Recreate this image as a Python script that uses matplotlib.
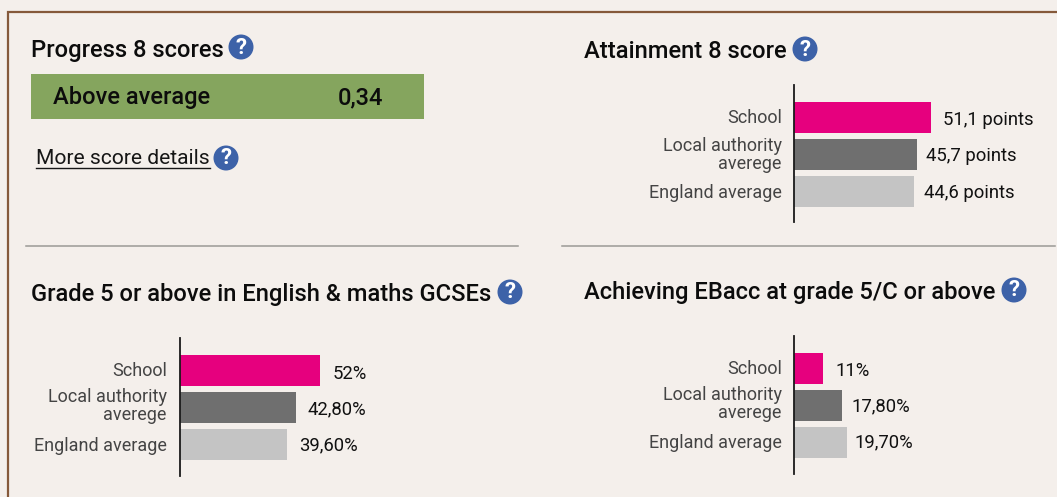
import matplotlib.pyplot as plt
from matplotlib.patches import Circle, Rectangle
from matplotlib.transforms import ScaledTranslation

categories = ['School', 'Local authority\naverege', 'England average']

attainment_values = [51.1, 45.7, 44.6]
attainment_labels = ['51,1 points', '45,7 points', '44,6 points']
grade5_values = [52, 42.8, 39.6]
grade5_labels = ['52%', '42,80%', '39,60%']
ebacc_values = [11, 17.8, 19.7]
ebacc_labels = ['11%', '17,80%', '19,70%']

W, H = 1057, 497
BG = '#f4efeb'
BAR_COLORS = ['#e6007e', '#6f6f6f', '#c4c4c4']
PX_PER_UNIT = 2.7

plt.rcParams['font.family'] = ['Roboto', 'DejaVu Sans']

fig = plt.figure(figsize=(W / 100, H / 100), dpi=100, facecolor=BG)

# overlay in pixel coordinates for the page furniture
page = fig.add_axes([0, 0, 1, 1])
page.set_xlim(0, W)
page.set_ylim(H, 0)
page.axis('off')
page.set_zorder(5)
page.patch.set_alpha(0)


def help_icon(x, y):
    page.add_patch(Circle((x, y), 12.5, color='#3d62a8', lw=0))
    page.text(x, y + 0.5, '?', color='white', fontsize=16, fontweight='bold',
              ha='center', va='center')


def heading(x, y, s):
    page.text(x, y, s, fontsize=17.1, fontweight='medium', color='#0c0c0c',
              ha='left', va='center')


def bar_panel(left, top, bottom, first_center, values, labels, pads, drops, lifts, label_pad=8.5):
    width = 250
    ax = fig.add_axes([left / W, 1 - bottom / H, width / W, (bottom - top) / H])
    ax.patch.set_alpha(0)
    ypos = [0, 1, 2]
    ax.barh(ypos, values, height=31 / 37, color=BAR_COLORS)
    ax.set_xlim(0, width / PX_PER_UNIT)
    ax.set_ylim(2 + (bottom - first_center - 74) / 37, -(first_center - top) / 37)
    ax.set_yticks(ypos)
    ax.set_yticklabels(categories, fontsize=13.0, fontweight='normal',
                       color='#444444', linespacing=1.0)
    ax.tick_params(axis='y', length=0, pad=label_pad)
    # category labels do not sit exactly on the bar centres
    for tick, up in zip(ax.get_yticklabels(), lifts):
        tick.set_transform(tick.get_transform() + ScaledTranslation(0, up / 100, fig.dpi_scale_trans))
    ax.set_xticks([])
    for side in ['top', 'right', 'bottom']:
        ax.spines[side].set_visible(False)
    ax.spines['left'].set_linewidth(1.3)
    ax.spines['left'].set_color('#1a1a1a')
    for y, v, s, pad, drop in zip(ypos, values, labels, pads, drops):
        ax.annotate(s, (v, y), xytext=(pad * 0.72, -drop * 0.72), textcoords='offset points',
                    fontsize=13.3, color='#111111', ha='left', va='center')
    return ax


# border and dividers
page.plot([8, 8, W], [H, 12, 12], color='#85593a', lw=1.6, solid_joinstyle='miter')
page.plot([26, 518], [245.5, 245.5], color='#9a9a96', lw=1.1)
page.plot([562, 1055], [245.5, 245.5], color='#9a9a96', lw=1.1)

# Progress 8 block
heading(31, 50, 'Progress 8 scores')
help_icon(241, 47)
page.add_patch(Rectangle((31, 74), 393, 45, color='#85a55e', lw=0))
page.text(53, 97.5, 'Above average', fontsize=17, fontweight='medium', color='#0c0c0c',
          ha='left', va='center')
page.text(338, 97.5, '0,34', fontsize=17, fontweight='medium', color='#0c0c0c',
          ha='left', va='center')
page.text(36, 158, 'More score details', fontsize=15.1, color='#161616',
          ha='left', va='center')
page.plot([36, 209.5], [168, 168], color='#161616', lw=1)
help_icon(226, 158)

# Attainment 8
heading(584, 51, 'Attainment 8 score')
help_icon(805, 49)
bar_panel(793.5, 85, 222, 117.5, attainment_values, attainment_labels,
          [12, 9, 10], [2, 1, 1], [1.5, 2, 0])

# Grade 5
heading(31, 295, 'Grade 5 or above in English & maths GCSEs')
help_icon(510, 292)
bar_panel(180, 338, 476, 370.5, grade5_values, grade5_labels,
          [12, 12, 12], [3.5, 2, 1], [1.5, 3, 0], label_pad=9.5)

# EBacc
heading(584, 293, 'Achieving EBacc at grade 5/C or above')
help_icon(1014, 290)
bar_panel(793.5, 336, 474, 368.5, ebacc_values, ebacc_labels,
          [12, 10, 8], [2.5, 1, 0], [1.5, 3, 2])

fig.savefig('out.png', dpi=100, facecolor=BG)
